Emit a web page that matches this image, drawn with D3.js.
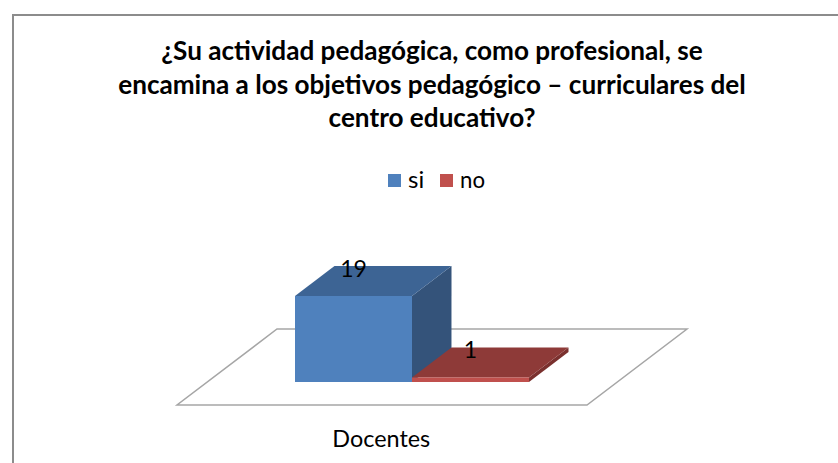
<!DOCTYPE html>
<html><head><meta charset="utf-8">
<script src="https://cdn.jsdelivr.net/npm/d3@7"></script>
<style>body{margin:0;background:#fff}svg{display:block}</style>
</head><body>
<script>
const titleLines = ["¿Su actividad pedagógica, como profesional, se", "encamina a los objetivos pedagógico – curriculares del", "centro educativo?"];
const categories = ["Docentes"];
const seriesNames = ["si", "no"];
const seriesValues = [19, 1];
const seriesColors = [{front:"#4f81bd", top:"#3d6494", side:"#34537a"}, {front:"#c0504d", top:"#8e3a38", side:"#7a302e"}];

const W = 838, H = 463;
const svg = d3.select("body").append("svg").attr("width", W).attr("height", H);
const font = "Lato, 'Open Sans', sans-serif";

// chart border
svg.append("path").attr("d", `M13,${H+2} L13,15 L${W+2},15`).attr("fill","none").attr("stroke","#8c8c8c").attr("stroke-width",2);

function fit(sel, target) {
  const w = sel.node().getComputedTextLength();
  const fs0 = +sel.attr("font-size");
  sel.attr("font-size", fs0 * target / w);
}

// title
const ys = [60, 94, 127];
const tl = svg.append("g").selectAll("text").data(titleLines).join("text")
  .attr("x", 432).attr("y", (d,i)=>ys[i]).attr("text-anchor","middle")
  .attr("font-family", font).attr("font-weight","bold").attr("font-size",20).attr("fill","#000").text(d=>d);
const w2 = tl.nodes()[1].getComputedTextLength();
tl.attr("font-size", 20 * 628 / w2);

// legend
const leg = svg.append("g");
const legX = [388, 440];
seriesNames.forEach((n,i)=>{
  leg.append("rect").attr("x", legX[i]).attr("y", 174).attr("width", 13).attr("height", 13).attr("fill", seriesColors[i].front);
  const t = leg.append("text").attr("x", legX[i]+20).attr("y", 188).attr("font-family", font).attr("font-size",24).attr("fill","#000").text(n);
  if (i===1) fit(t, 25);
});

// 3D geometry
const floorFrontY = 405, floorBackY = 329, floorLeft = 177, floorRight = 587;
const depthDX = 100, depthDY = floorBackY - floorFrontY; // -76
svg.append("path").attr("d",
  `M${floorLeft},${floorFrontY} L${floorRight},${floorFrontY} L${floorRight+depthDX},${floorBackY} L${floorLeft+depthDX},${floorBackY} Z`)
  .attr("fill","#fff").attr("stroke","#a6a6a6").attr("stroke-width",1.5);

const barDepthFrac = 30/76;
const frontFrac = (1 - barDepthFrac)/2;
const baseY = floorFrontY + depthDY*frontFrac;
const shiftX = depthDX*frontFrac;
const bdx = depthDX*barDepthFrac, bdy = depthDY*barDepthFrac;

const x0 = d3.scaleBand().domain(categories).range([floorLeft+shiftX, floorRight+shiftX]);
const x1 = d3.scaleBand().domain(seriesNames).range([295, 529]);
const y = d3.scaleLinear().domain([0, 19]).range([baseY, 296]);

const bars = svg.append("g");
seriesNames.forEach((n,i)=>{
  const v = seriesValues[i], c = seriesColors[i];
  const xl = x1(n), xr = xl + x1.bandwidth(), yt = y(v), yb = y(0);
  bars.append("path").attr("d", `M${xr},${yb} L${xr+bdx},${yb+bdy} L${xr+bdx},${yt+bdy} L${xr},${yt} Z`).attr("fill", c.side);
  bars.append("path").attr("d", `M${xl},${yt} L${xr},${yt} L${xr+bdx},${yt+bdy} L${xl+bdx},${yt+bdy} Z`).attr("fill", c.top);
  bars.append("rect").attr("x", xl).attr("y", yt).attr("width", xr-xl).attr("height", yb-yt).attr("fill", c.front);
  bars.append("text").attr("x", (xl+xr)/2).attr("y", yt - 19)
    .attr("text-anchor","middle").attr("font-family", font).attr("font-size",23).attr("fill","#000").text(v);
});

// category label
const cat = svg.append("text").attr("x", x0(categories[0]) + x0.bandwidth()/2 - 31).attr("y", 447).attr("text-anchor","middle")
  .attr("font-family", font).attr("font-size",24).attr("fill","#000").text(categories[0]);
fit(cat, 98);
</script>
</body></html>
